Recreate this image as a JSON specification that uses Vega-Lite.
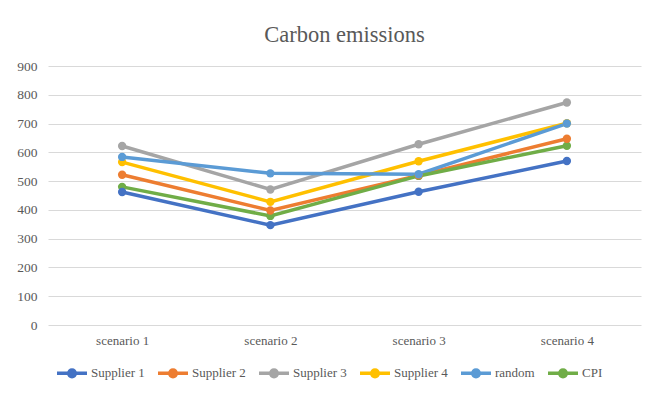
{
  "$schema": "https://vega.github.io/schema/vega-lite/v6.json",
  "autosize": "none",
  "width": 593,
  "height": 259,
  "padding": {"left": 48, "top": 66, "right": 9, "bottom": 72},
  "background": "white",
  "title": {"text": "Carbon emissions", "font": "Liberation Serif", "fontSize": 22.5, "fontWeight": "normal", "color": "#595959", "offset": 13, "anchor": "middle"},
  "config": {
    "font": "Liberation Serif",
    "view": {"stroke": null},
    "axis": {"labelFont": "Liberation Serif", "labelFontSize": 13, "labelColor": "#595959", "ticks": false, "domain": false, "title": null},
    "legend": {"labelFont": "Liberation Serif", "labelFontSize": 13, "labelColor": "#595959"}
  },
  "data": {"values": [
    {"scenario": "scenario 1", "series": "Supplier 1", "value": 462},
    {"scenario": "scenario 2", "series": "Supplier 1", "value": 347},
    {"scenario": "scenario 3", "series": "Supplier 1", "value": 463},
    {"scenario": "scenario 4", "series": "Supplier 1", "value": 570},
    {"scenario": "scenario 1", "series": "Supplier 2", "value": 522},
    {"scenario": "scenario 2", "series": "Supplier 2", "value": 398},
    {"scenario": "scenario 3", "series": "Supplier 2", "value": 520},
    {"scenario": "scenario 4", "series": "Supplier 2", "value": 647},
    {"scenario": "scenario 1", "series": "Supplier 3", "value": 622},
    {"scenario": "scenario 2", "series": "Supplier 3", "value": 471},
    {"scenario": "scenario 3", "series": "Supplier 3", "value": 628},
    {"scenario": "scenario 4", "series": "Supplier 3", "value": 773},
    {"scenario": "scenario 1", "series": "Supplier 4", "value": 566},
    {"scenario": "scenario 2", "series": "Supplier 4", "value": 428},
    {"scenario": "scenario 3", "series": "Supplier 4", "value": 569},
    {"scenario": "scenario 4", "series": "Supplier 4", "value": 701},
    {"scenario": "scenario 1", "series": "random", "value": 584},
    {"scenario": "scenario 2", "series": "random", "value": 527},
    {"scenario": "scenario 3", "series": "random", "value": 524},
    {"scenario": "scenario 4", "series": "random", "value": 700},
    {"scenario": "scenario 1", "series": "CPI", "value": 480},
    {"scenario": "scenario 2", "series": "CPI", "value": 379},
    {"scenario": "scenario 3", "series": "CPI", "value": 518},
    {"scenario": "scenario 4", "series": "CPI", "value": 623}
  ]},
  "encoding": {
    "x": {"field": "scenario", "type": "ordinal", "scale": {"type": "point", "padding": 0.5}, "axis": {"labelAngle": 0, "labelPadding": 9, "grid": false}},
    "y": {"field": "value", "type": "quantitative", "scale": {"domain": [0, 900], "nice": false}, "axis": {"values": [0,100,200,300,400,500,600,700,800,900], "grid": true, "gridColor": "#d9d9d9", "gridWidth": 1, "labelPadding": 11, "labelFontSize": 13.5}},
    "color": {"field": "series", "type": "nominal",
      "scale": {"domain": ["Supplier 1", "Supplier 2", "Supplier 3", "Supplier 4", "random", "CPI"], "range": ["#4472C4", "#ED7D31", "#A5A5A5", "#FFC000", "#5B9BD5", "#70AD47"]},
      "legend": {"orient": "bottom", "direction": "horizontal", "title": null, "offset": 2, "padding": 7, "columnPadding": 6, "symbolType": "M-1,0L1,0M0.22,0A0.22,0.22 0 1,1 -0.22,0A0.22,0.22 0 1,1 0.22,0Z", "symbolSize": 900, "symbolStrokeWidth": 3.5, "labelOffset": 2}},
    "order": {"field": "series"}
  },
  "layer": [
    {"mark": {"type": "line", "strokeWidth": 3.5}},
    {"mark": {"type": "point", "filled": true, "size": 70, "opacity": 1}}
  ]
}
